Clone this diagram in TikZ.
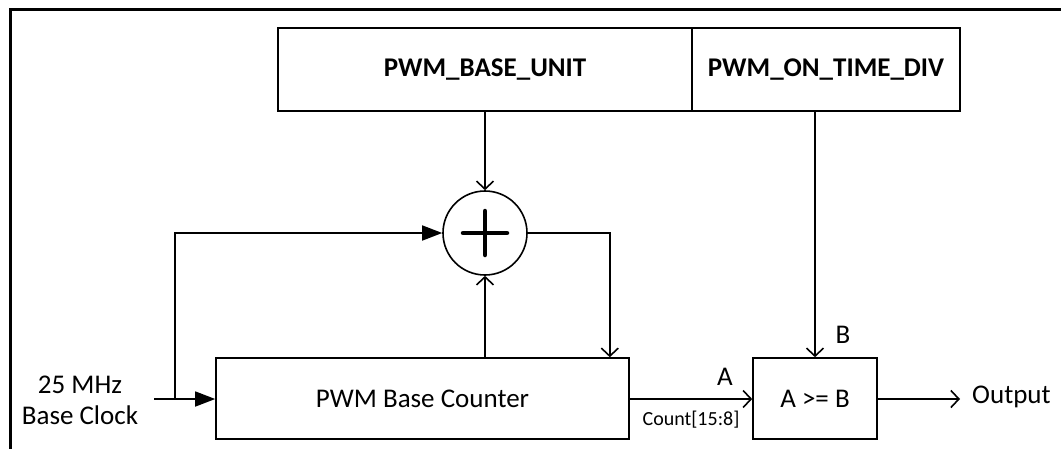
\documentclass[tikz,border=0pt]{standalone}
\usepackage{fontspec}
\setmainfont{Carlito}
\usetikzlibrary{arrows.meta,calc}
\begin{document}
\begin{tikzpicture}[x=1pt,y=-1pt,
  blk/.style={draw,line width=1.6pt,rectangle,inner sep=0pt,font=\fontsize{27}{32}\selectfont},
  lbl/.style={inner sep=0pt,font=\fontsize{27}{32}\selectfont},
  small/.style={inner sep=0pt,font=\fontsize{20}{24}\selectfont},
  wire/.style={line width=1.6pt},
  fillarrow/.style={wire,-{Triangle[length=20pt,width=15pt]}},
  openarrow/.style={wire,-{Straight Barb[length=8pt,width=17pt]}}]
\useasboundingbox (0,0) rectangle (1061,448);
\fill[white] (0,0) rectangle (1061,448);
% frame
\draw[line width=3pt] (10.5,470) -- (10.5,9) -- (1090,9);
% blocks
\node[blk,minimum width=414pt,minimum height=83pt,font=\fontsize{27}{32}\selectfont\bfseries] (unit) at (485,69.5) {PWM\_BASE\_UNIT};
\node[blk,minimum width=268pt,minimum height=83pt,font=\fontsize{27}{32}\selectfont\bfseries] (div) at (826,69.5) {PWM\_ON\_TIME\_DIV};
\node[draw,circle,line width=1.6pt,minimum size=84pt,inner sep=0pt] (adder) at (485,233) {};
\draw[line width=4.5pt,line cap=round] ([xshift=-22pt]adder.center) -- ([xshift=22pt]adder.center)
  ([yshift=-22pt]adder.center) -- ([yshift=22pt]adder.center);
\node[blk,minimum width=413pt,minimum height=81pt] (counter) at (422.5,398.5) {PWM Base Counter};
\node[blk,minimum width=124pt,minimum height=81pt] (cmp) at (815,398.5) {A >= B};
\node[lbl,align=center] (clk) at (80,400) {25 MHz\\[-1pt]Base Clock};
\node[lbl,anchor=west] (out) at (972,397) {Output};
\coordinate (clkin) at (154,399);
\coordinate (branch) at (175,399);
\coordinate (fb) at ([xshift=-20pt]counter.north east);
% connectors
\draw[fillarrow] (clkin) -- (counter.west |- clkin);
\draw[fillarrow] (branch) |- (adder.west);
\draw[openarrow] (unit.south -| adder.north) -- (adder.north);
\draw[openarrow] (adder.south |- counter.north) -- (adder.south);
\draw[openarrow] (adder.east) -| (fb);
\draw[openarrow] (cmp.north |- div.south) -- (cmp.north);
\draw[openarrow] (counter.east |- clkin) -- (cmp.west |- clkin);
\draw[openarrow] (cmp.east |- clkin) -- ([xshift=-12pt]out.west |- clkin);
% labels
\node[lbl] (la) at (725,377) {A};
\node[lbl] (lb) at (843,335) {B};
\node[small] (cnt) at (691,420) {Count[15:8]};
\end{tikzpicture}
\end{document}
